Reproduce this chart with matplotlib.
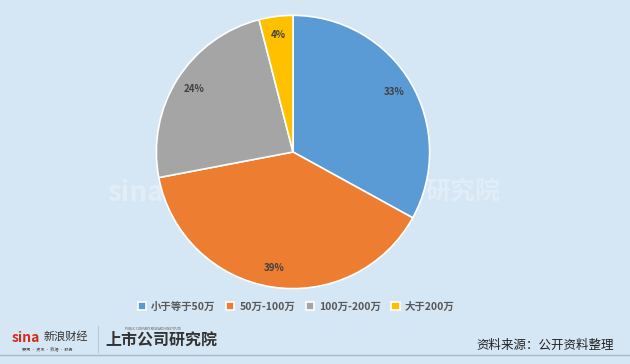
import matplotlib.pyplot as plt

plt.rcParams['font.family'] = ['Noto Sans CJK SC', 'DejaVu Sans']

# data
categories = ['小于等于50万', '50万-100万', '100万-200万', '大于200万']
shares = [33, 39, 24, 4]
colors = ['#5b9bd5', '#ed7d31', '#a5a5a5', '#ffc000']

bg = '#d5e6f4'

fig = plt.figure(figsize=(6.3, 3.64), dpi=100)
fig.patch.set_facecolor(bg)

# pie area: centre ~ (293,152) px, radius ~138 px
ax = fig.add_axes([(293 - 138) / 630, (364 - 290) / 364, 276 / 630, 276 / 364])
ax.set_facecolor(bg)
wedges, texts, autotexts = ax.pie(
    shares, colors=colors, startangle=90, counterclock=False,
    autopct='%d%%', pctdistance=0.86,
    wedgeprops=dict(edgecolor='white', linewidth=1.2),
    textprops=dict(fontsize=7, fontweight='bold', color='#404040'))
ax.set_xlim(-1.01, 1.01)
ax.set_ylim(-1.01, 1.01)
ax.set_aspect('equal')
ax.axis('off')

# faint watermark
fig.text(0.215, 0.47, 'sina', fontsize=20, fontweight='bold', style='italic',
         color='white', alpha=0.3, ha='center', va='center')
fig.text(0.735, 0.47, '研究院', fontsize=18, fontweight='bold',
         color='white', alpha=0.3, ha='center', va='center')

# legend
fig.legend(wedges, categories, loc='center', bbox_to_anchor=(0.47, 0.157),
           ncol=4, frameon=False, prop=dict(size=7.5, weight='bold'),
           handlelength=0.8, handleheight=0.8,
           columnspacing=1.0, handletextpad=0.5, labelcolor='#595959')

# footer
fig.add_artist(plt.Line2D([0, 1], [1 - 355 / 364] * 2, color='#aab8c4', linewidth=1))
fig.add_artist(plt.Line2D([98 / 630] * 2, [1 - 352 / 364, 1 - 326 / 364],
                          color='#b8c8d6', linewidth=0.8))
fig.text(12 / 630, 1 - 338 / 364, 'sina', fontsize=10, fontweight='bold', style='italic',
         color='#d52b1e', va='center')
fig.text(44 / 630, 1 - 336 / 364, '新浪财经', fontsize=8, color='#333333', va='center')
fig.text(22 / 630, 1 - 349 / 364, '要闻 · 资讯 · 数据 · 服务', fontsize=3, color='#555555',
         va='center')
fig.text(105 / 630, 1 - 340 / 364, '上市公司研究院', fontsize=11.5, fontweight='bold',
         color='#333333', va='center')
fig.text(125 / 630, 1 - 329 / 364, 'PUBLIC COMPANY RESEARCH INSTITUTE', fontsize=2.2,
         color='#555555', va='center')
fig.text(0.975, 1 - 345 / 364, '资料来源：公开资料整理', fontsize=9, color='#222222',
         ha='right', va='center')

fig.savefig('out.png', dpi=100, facecolor=bg)
